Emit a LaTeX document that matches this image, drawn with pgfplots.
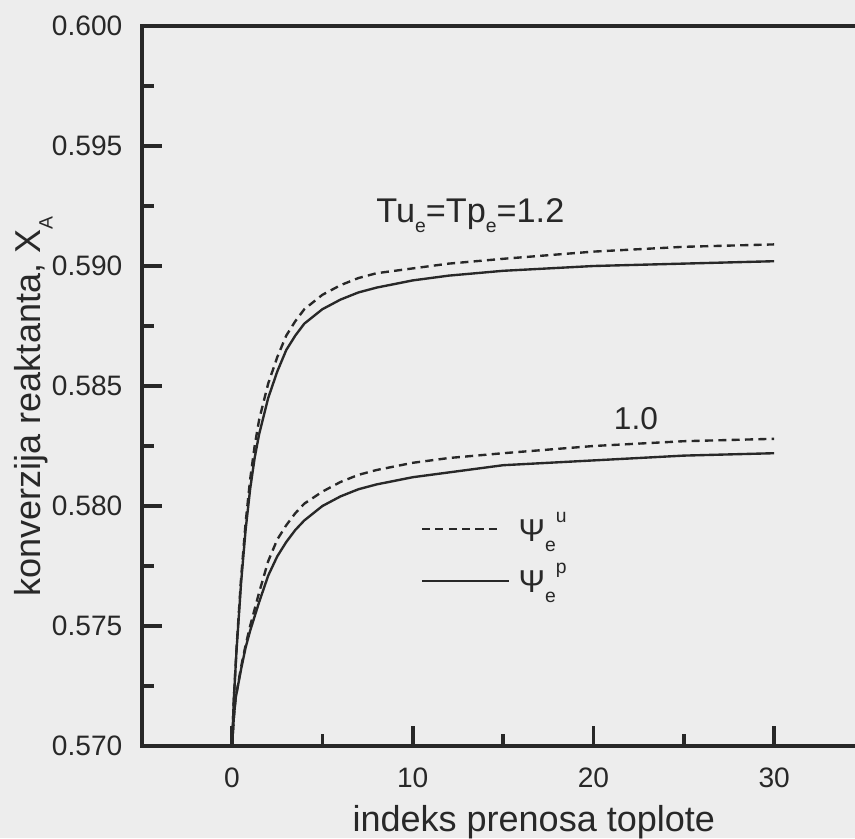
\documentclass[border=0pt]{standalone}
\usepackage{fontspec}
\setmainfont{Liberation Sans}
\usepackage{pgfplots}
\pgfplotsset{compat=1.18}

\definecolor{ink}{RGB}{40,40,40}
\definecolor{paper}{RGB}{237,237,237}

% lowered / raised small letters
\newcommand\lo[2][0.3em]{\raisebox{-#1}{\fontsize{11}{11}\selectfont #2}}
\newcommand\hi[2][0.6em]{\raisebox{#1}{\fontsize{11}{11}\selectfont #2}}

\begin{document}
\begin{tikzpicture}
\fill[paper] (-2.834,-1.84) rectangle (14.266,14.92);
\begin{axis}[
    at={(0,0)}, anchor=south west, scale only axis,
    width=14.456cm, height=14.4cm,
    xmin=-5, xmax=35, ymin=0.570, ymax=0.600,
    axis line style={ink, line width=2.2pt},
    tick style={ink, line width=2pt},
    tick pos=left, tick align=inside,
    major tick length=0.4cm, minor tick length=0.24cm,
    xtick={0,10,20,30}, minor xtick={5,15,25},
    ytick={0.570,0.575,0.580,0.585,0.590,0.595,0.600},
    minor ytick={0.5725,0.5775,0.5825,0.5875,0.5925,0.5975},
    scaled y ticks=false,
    /pgf/number format/assume math mode=true,
    tick label style={font=\fontsize{16}{16}\selectfont, text=ink, inner sep=0pt},
    xticklabel style={yshift=-0.44cm},
    yticklabel style={xshift=-0.38cm, /pgf/number format/fixed,
      /pgf/number format/fixed zerofill, /pgf/number format/precision=3},
    xlabel={indeks prenosa toplote},
    ylabel={konverzija reaktanta, X\lo[0.35em]{A}},
    label style={font=\fontsize{20.5}{24}\selectfont, text=ink},
    xlabel style={at={(axis description cs:0.5425,-0.119)}, anchor=base},
    ylabel style={at={(axis description cs:-0.1407,0.4715)}, anchor=base},
    every axis plot/.append style={ink, line width=1.35pt, line join=round},
]
% Tu_e = Tp_e = 1.2, dashed (Psi_e^u)
\addplot[dash pattern=on 4.6pt off 3pt] coordinates {
 (0,0.5700) (0.1,0.5720) (0.25,0.5741) (0.5,0.5770) (0.75,0.5793)
 (1.0,0.5811) (1.25,0.5825) (1.5,0.5836) (2.0,0.5851) (2.5,0.5862)
 (3.0,0.5871) (3.5,0.5877) (4.0,0.5882) (5.0,0.5888) (6.0,0.5892)
 (7.0,0.5895) (8.0,0.5897) (10,0.5899) (12,0.5901) (15,0.5903)
 (20,0.5906) (25,0.5908) (30,0.5909)
};
% Tu_e = Tp_e = 1.2, solid (Psi_e^p)
\addplot[solid] coordinates {
 (0,0.5700) (0.1,0.5720) (0.25,0.5740) (0.5,0.5768) (0.75,0.5790)
 (1.0,0.5807) (1.25,0.5820) (1.5,0.5830) (2.0,0.5845) (2.5,0.5856)
 (3.0,0.5865) (3.5,0.5871) (4.0,0.5876) (5.0,0.5882) (6.0,0.5886)
 (7.0,0.5889) (8.0,0.5891) (10,0.5894) (12,0.5896) (15,0.5898)
 (20,0.5900) (25,0.5901) (30,0.5902)
};
% 1.0, dashed
\addplot[dash pattern=on 4.6pt off 3pt] coordinates {
 (0,0.5700) (0.1,0.5712) (0.2,0.5720) (0.5,0.5733) (0.75,0.5742)
 (1.0,0.5750) (1.5,0.5764) (2.0,0.5777) (2.5,0.5786) (3.0,0.5792)
 (3.5,0.5797) (4.0,0.5801) (5.0,0.5806) (6.0,0.5810) (7.0,0.5813)
 (8.0,0.5815) (10,0.5818) (12,0.5820) (15,0.5822) (20,0.5825)
 (25,0.5827) (30,0.5828)
};
% 1.0, solid
\addplot[solid] coordinates {
 (0,0.5700) (0.1,0.5712) (0.2,0.5720) (0.5,0.5732) (0.75,0.5741)
 (1.0,0.5748) (1.5,0.5760) (2.0,0.5771) (2.5,0.5779) (3.0,0.5785)
 (3.5,0.5790) (4.0,0.5794) (5.0,0.5800) (6.0,0.5804) (7.0,0.5807)
 (8.0,0.5809) (10,0.5812) (12,0.5814) (15,0.5817) (20,0.5819)
 (25,0.5821) (30,0.5822)
};

\node[anchor=base, inner sep=0pt, text=ink, font=\fontsize{19.5}{22}\selectfont]
  at (axis cs:13.19,0.59183) {Tu\lo{e}=Tp\lo{e}=1.2};
\node[anchor=base, inner sep=0pt, text=ink, font=\fontsize{18}{22}\selectfont]
  at (axis cs:22.35,0.58317) {1.0};

% legend
\draw[ink, line width=1.3pt, dash pattern=on 4.6pt off 3pt]
  (axis cs:10.515,0.57903) -- (axis cs:14.94,0.57903);
\draw[ink, line width=1.3pt] (axis cs:10.515,0.57688) -- (axis cs:15.31,0.57688);
\node[anchor=base west, inner sep=0pt, text=ink, font=\fontsize{18}{20}\selectfont]
  at (axis cs:15.84,0.57851) {Ψ\lo[0.32em]{e}\hi[0.62em]{u}};
\node[anchor=base west, inner sep=0pt, text=ink, font=\fontsize{18}{20}\selectfont]
  at (axis cs:15.84,0.57639) {Ψ\lo[0.32em]{e}\hi[0.62em]{p}};
\end{axis}
\pgfresetboundingbox
\path[use as bounding box] (-2.834,-1.84) rectangle (14.266,14.92);
\end{tikzpicture}
\end{document}
